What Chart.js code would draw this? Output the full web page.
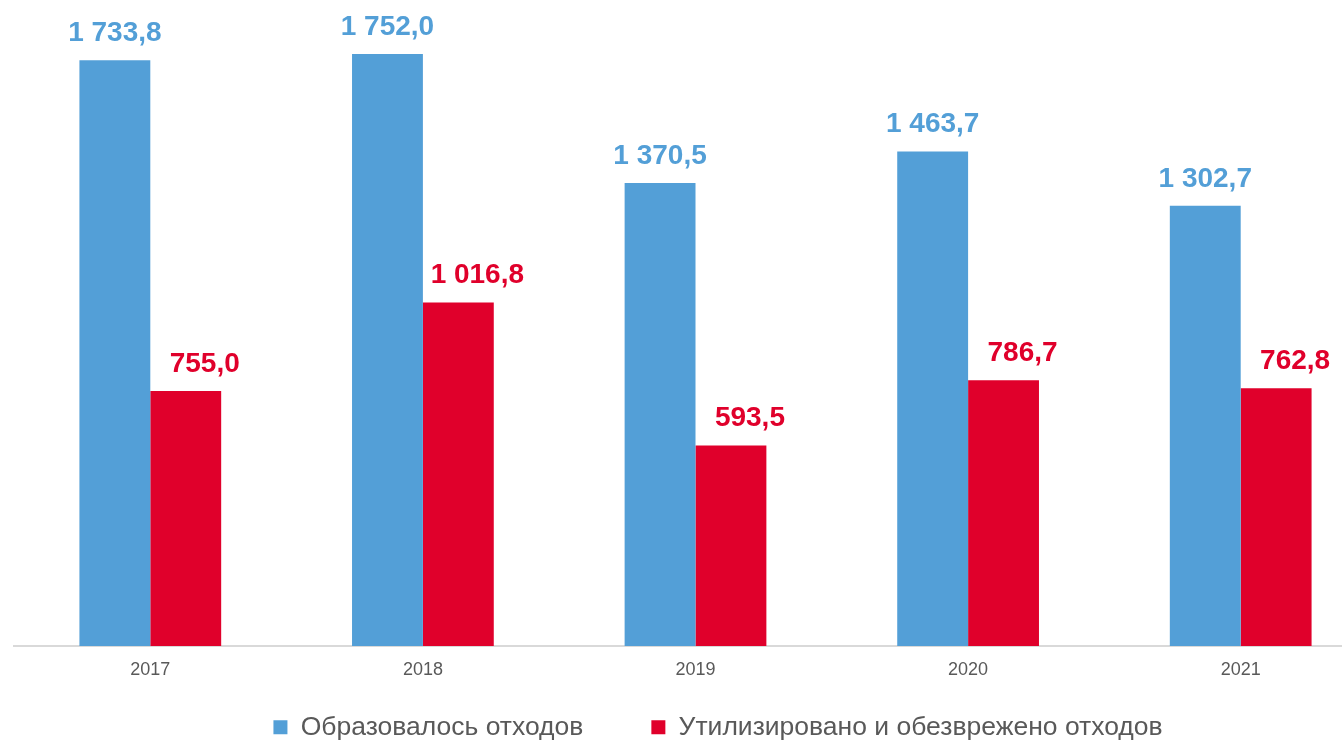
<!DOCTYPE html>
<html lang="ru">
<head>
<meta charset="utf-8">
<title>Отходы</title>
<script src="https://cdn.jsdelivr.net/npm/chart.js@4.4.1/dist/chart.umd.min.js"></script>
<style>
  html, body { margin: 0; padding: 0; background: #fff; overflow: hidden; }
  #wrap { width: 1342px; height: 741px; overflow: hidden; position: relative; }
  canvas { display: block; }
</style>
</head>
<body>
<div id="wrap">
  <canvas id="chart" width="1422" height="760"></canvas>
</div>
<script>
const years = ['2017', '2018', '2019', '2020', '2021']
const generated = [1733.8, 1752.0, 1370.5, 1463.7, 1302.7]
const utilized = [755.0, 1016.8, 593.5, 786.7, 762.8]
const seriesNames = ['Образовалось отходов', 'Утилизировано и обезврежено отходов']

const BLUE = '#539fd7'
const RED = '#e0002b'
const FONT = "'Liberation Sans', Arial, sans-serif"

// 1 733,8 style formatting
function fmt(v) {
  const [i, d] = v.toFixed(1).split('.')
  return i.replace(/\B(?=(\d{3})+(?!\d))/g, ' ') + ',' + d
}

// value labels above bars; red series labels sit a bit to the right
const valueLabels = {
  id: 'valueLabels',
  afterDatasetsDraw(chart) {
    const ctx = chart.ctx
    ctx.save()
    ctx.font = `bold 28px ${FONT}`
    ctx.textAlign = 'center'
    ctx.textBaseline = 'middle'
    chart.data.datasets.forEach((ds, di) => {
      const meta = chart.getDatasetMeta(di)
      const shift = di === 1 ? 19 : 0
      ctx.fillStyle = ds.backgroundColor
      meta.data.forEach((bar, i) => {
        ctx.fillText(fmt(ds.data[i]), bar.x + shift, bar.y - 27)
      })
    })
    ctx.restore()
  }
}

new Chart(document.getElementById('chart').getContext('2d'), {
  type: 'bar',
  data: {
    labels: years,
    datasets: [
      { label: seriesNames[0], data: generated, backgroundColor: BLUE, borderWidth: 0 },
      { label: seriesNames[1], data: utilized, backgroundColor: RED, borderWidth: 0 }
    ]
  },
  options: {
    responsive: false,
    animation: false,
    categoryPercentage: 0.52,
    barPercentage: 1.0,
    layout: { padding: { left: 14, right: 0, top: 4, bottom: 9.5 } },
    plugins: {
      tooltip: { enabled: false },
      legend: {
        position: 'bottom',
        labels: {
          boxWidth: 14,
          boxHeight: 14,
          padding: 68,
          color: '#595959',
          font: { family: FONT, size: 26.5 }
        }
      }
    },
    scales: {
      x: {
        grid: { display: false, drawTicks: false },
        border: { display: true, color: '#d9d9d9', width: 2 },
        // mirrored with negative padding so labels sit below the line without clipping
        ticks: { color: '#595959', font: { family: FONT, size: 18 }, mirror: true, padding: -34.5 },
        afterFit: (s) => { s.height = 0 }
      },
      y: {
        position: 'right',
        min: 0,
        max: 1900,
        grid: { display: false, drawTicks: false },
        border: { display: false },
        ticks: { display: false },
        afterFit: (s) => { s.width = 45 }
      }
    }
  },
  plugins: [valueLabels]
})
</script>
</body>
</html>
